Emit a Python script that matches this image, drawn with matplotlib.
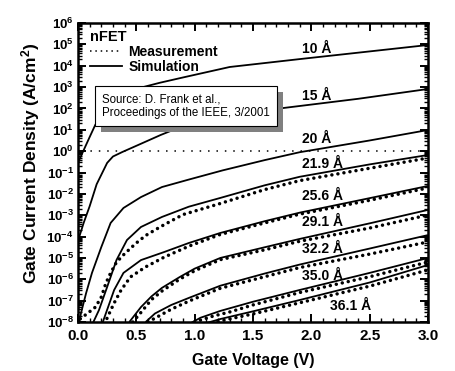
import matplotlib
matplotlib.use('Agg')
from matplotlib import pyplot as plt
from matplotlib.lines import Line2D
from matplotlib.ticker import LogLocator, NullFormatter, MultipleLocator
import matplotlib.patheffects as pe
import numpy as np

plt.rcParams['font.family'] = ['Liberation Sans', 'DejaVu Sans']
plt.rcParams['mathtext.fontset'] = 'custom'
plt.rcParams['mathtext.rm'] = 'Liberation Sans'
plt.rcParams['mathtext.bf'] = 'Liberation Sans:bold'
plt.rcParams['mathtext.it'] = 'Liberation Sans:italic'

# gate voltage (V) and log10 of gate current density (A/cm^2)
# simulation curves
v_10 = [0.0, 0.05, 0.1, 0.15, 0.2, 0.3, 0.4, 0.53, 0.7, 0.9, 1.3, 1.9, 2.5, 3.0]
lj_10 = [-0.54, 0.06, 0.66, 1.25, 1.6, 2.05, 2.45, 2.96, 3.2, 3.45, 3.94, 4.31, 4.67, 4.97]

v_15 = [0.0, 0.05, 0.1, 0.16, 0.25, 0.3, 0.38, 0.5, 0.71, 0.92, 1.3, 1.76, 2.4, 3.0]
lj_15 = [-4.2, -3.34, -2.58, -1.55, -0.55, -0.25, -0.04, 0.25, 0.76, 1.22, 1.6, 2.02, 2.45, 2.91]

v_20 = [0.0, 0.026, 0.07, 0.12, 0.2, 0.28, 0.39, 0.54, 0.72, 0.95, 1.24, 1.6, 1.9, 2.5, 3.0]
lj_20 = [-8.3, -7.58, -6.64, -5.7, -4.49, -3.36, -2.66, -2.15, -1.68, -1.33, -0.9, -0.42, -0.05, 0.5, 0.99]

v_219 = [0.1, 0.12, 0.18, 0.25, 0.33, 0.42, 0.54, 0.72, 0.95, 1.22, 1.6, 1.9, 2.5, 3.0]
lj_219 = [-8.6, -8.14, -7.44, -6.36, -5.1, -4.16, -3.55, -3.08, -2.6, -2.19, -1.6, -1.2, -0.62, -0.18]

v_256 = [0.2, 0.24, 0.31, 0.39, 0.54, 0.74, 0.95, 1.22, 1.6, 1.9, 2.5, 3.0]
lj_256 = [-8.2, -7.58, -6.5, -5.7, -5.1, -4.72, -4.3, -3.83, -3.28, -2.88, -2.2, -1.63]

v_291 = [0.44, 0.54, 0.63, 0.72, 0.87, 1.0, 1.22, 1.6, 1.9, 2.5, 3.0]
lj_291 = [-8.0, -7.3, -6.8, -6.4, -5.9, -5.5, -5.0, -4.5, -4.11, -3.38, -2.75]

v_322 = [0.58, 0.66, 0.8, 0.96, 1.22, 1.6, 1.9, 2.5, 3.0]
lj_322 = [-8.0, -7.6, -7.2, -6.85, -6.3, -5.73, -5.31, -4.56, -3.93]

v_350 = [0.95, 1.05, 1.22, 1.5, 1.9, 2.5, 3.0]
lj_350 = [-8.1, -7.8, -7.48, -7.05, -6.5, -5.7, -5.0]

v_361 = [1.1, 1.22, 1.5, 1.9, 2.5, 3.0]
lj_361 = [-8.05, -7.86, -7.5, -6.97, -6.15, -5.33]

# measurement points
vm_219 = [0.02, 0.08, 0.15, 0.2, 0.24, 0.28, 0.33, 0.4, 0.5, 0.58, 0.66, 0.72, 0.9, 1.22, 1.6, 1.9, 2.5, 3.0]
ljm_219 = [-7.85, -7.6, -7.3, -6.83, -6.17, -5.7, -5.2, -4.8, -4.3, -3.95, -3.69, -3.5, -2.97, -2.45, -1.8, -1.38, -0.8, -0.32]

vm_256 = [0.23, 0.25, 0.31, 0.37, 0.45, 0.58, 0.74, 0.95, 1.22, 1.6, 1.9, 2.5, 3.0]
ljm_256 = [-8.1, -7.81, -7.11, -6.5, -5.89, -5.42, -4.96, -4.45, -3.9, -3.36, -2.95, -2.3, -1.72]

vm_291 = [0.47, 0.54, 0.63, 0.72, 0.87, 1.0, 1.22, 1.6, 1.9, 2.5, 3.0]
ljm_291 = [-8.0, -7.55, -6.95, -6.55, -6.0, -5.6, -5.08, -4.62, -4.22, -3.6, -2.99]

vm_322 = [0.6, 0.7, 0.8, 0.96, 1.22, 1.6, 1.9, 2.5, 3.0]
ljm_322 = [-8.0, -7.7, -7.4, -7.0, -6.42, -5.88, -5.45, -4.82, -4.25]

vm_350 = [1.0, 1.16, 1.3, 1.5, 1.9, 2.5, 3.0]
ljm_350 = [-8.0, -7.72, -7.53, -7.2, -6.62, -5.88, -5.19]

vm_361 = [1.15, 1.22, 1.5, 1.9, 2.5, 3.0]
ljm_361 = [-8.05, -7.95, -7.62, -7.1, -6.32, -5.56]

ref_level = 1.0  # dotted line at 1 A/cm^2

sim_curves = [(v_10, lj_10), (v_15, lj_15), (v_20, lj_20), (v_219, lj_219), (v_256, lj_256),
              (v_291, lj_291), (v_322, lj_322), (v_350, lj_350), (v_361, lj_361)]
meas_curves = [(vm_219, ljm_219), (vm_256, ljm_256), (vm_291, ljm_291),
               (vm_322, ljm_322), (vm_350, ljm_350), (vm_361, ljm_361)]

thickness = ['10 Å', '15 Å', '20 Å', '21.9 Å', '25.6 Å', '29.1 Å', '32.2 Å', '35.0 Å', '36.1 Å']
label_pos = [(1.92, 4.78), (1.92, 2.58), (1.92, 0.57), (1.92, -0.58), (1.92, -2.12),
             (1.92, -3.34), (1.92, -4.58), (1.92, -5.85), (2.16, -7.25)]

exps = list(range(-8, 7))

fig = plt.figure(figsize=(4.56, 3.71), dpi=100)
ax = fig.add_axes([0.171, 0.132, 0.7675, 0.806])

for v, lj in sim_curves:
    ax.plot(v, 10.0 ** np.array(lj), color='black', lw=1.3, solid_capstyle='butt')

for v, lj in meas_curves:
    ax.plot(v, 10.0 ** np.array(lj), color='black', lw=2.5, ls=(0, (0.01, 1.75)),
            dash_capstyle='round')

ax.axhline(ref_level, xmin=0.012, xmax=1.0, color='black', lw=1.1, ls=(0, (1, 4.5)))

for txt, (x, y) in zip(thickness, label_pos):
    ax.text(x, 10.0 ** y, txt, fontsize=10, fontweight='bold', ha='left', va='center', zorder=4)

ax.set_yscale('log')
ax.set_xlim(0, 3.0)
ax.set_ylim(1e-8, 1e6)
ax.set_yticks([10.0 ** e for e in exps])
ax.set_yticklabels([r'$\mathbf{10^{%d}}$' % e for e in exps], fontsize=9.5)
ax.yaxis.set_minor_locator(LogLocator(base=10, subs=np.arange(2, 10), numticks=100))
ax.yaxis.set_minor_formatter(NullFormatter())
ax.xaxis.set_minor_locator(MultipleLocator(0.1))
ax.set_xticks([0, 0.5, 1.0, 1.5, 2.0, 2.5, 3.0])
ax.set_xticklabels(['0.0', '0.5', '1.0', '1.5', '2.0', '2.5', '3.0'], fontsize=11, fontweight='bold')

ax.tick_params(which='both', direction='in', top=True, right=True)
ax.tick_params(which='major', length=6, width=1.4)
ax.tick_params(which='minor', length=3, width=1.0)
ax.tick_params(axis='x', which='major', pad=5)
ax.tick_params(axis='y', which='major', pad=3)
for s in ax.spines.values():
    s.set_linewidth(1.8)

ax.set_xlabel('Gate Voltage (V)', fontsize=11.5, fontweight='bold')
ax.set_ylabel(r'Gate Current Density (A/cm$^{\mathbf{2}}$)', fontsize=12.5, fontweight='bold')
ax.xaxis.set_label_coords(0.5, -0.103)
ax.yaxis.set_label_coords(-0.103, 0.53)

handles = [Line2D([], [], color='black', lw=1.1, ls=(0, (1, 2.5))),
           Line2D([], [], color='black', lw=1.3)]
leg = ax.legend(handles, ['Measurement', 'Simulation'], title='nFET', loc='upper left',
                bbox_to_anchor=(0.035, 0.975), frameon=False,
                prop={'weight': 'bold', 'size': 10},
                title_fontproperties={'weight': 'bold', 'size': 10.5},
                alignment='left', handlelength=2.3, handletextpad=0.45,
                labelspacing=0.05, borderpad=0, borderaxespad=0)

src = 'Source: D. Frank et al.,\nProceedings of the IEEE, 3/2001'
box_txt = ax.text(0.069, 0.722, src, transform=ax.transAxes, fontsize=8.3, color='black',
                  ha='left', va='center', zorder=6, linespacing=1.25,
                  bbox=dict(boxstyle='square,pad=0.6', fc='white', ec='black', lw=0.8))
box_txt.get_bbox_patch().set_path_effects([
    pe.SimplePatchShadow(offset=(4.5, -4.5), shadow_rgbFace='#808080', alpha=1.0),
    pe.Normal()])

fig.savefig('out.png', dpi=100)
